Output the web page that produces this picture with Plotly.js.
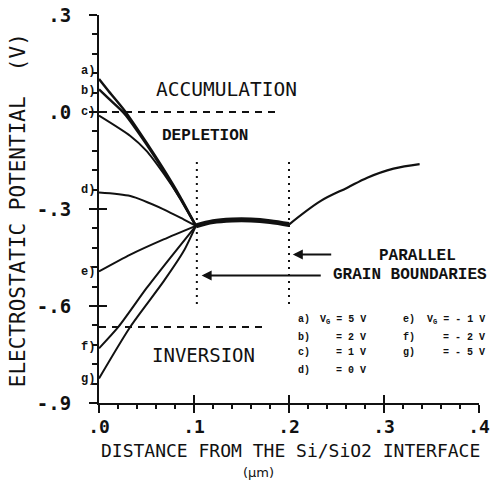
<!DOCTYPE html>
<html><head><meta charset="utf-8">
<script src="https://cdn.plot.ly/plotly-3.0.1.min.js"></script>
<style>html,body{margin:0;padding:0;background:#fff}</style>
</head><body><div id="chart" style="width:494px;height:482px"></div>
<script>
// ---- data ----
const xA = [0, 0.01, 0.027, 0.05, 0.068, 0.085, 0.102];
const yA = [0.102, 0.065, 0.004, -0.095, -0.177, -0.26, -0.352];
const xB = [0, 0.01, 0.027, 0.05, 0.068, 0.085, 0.102];
const yB = [0.07, 0.042, -0.006, -0.1, -0.182, -0.265, -0.352];
const xC = [0, 0.033, 0.05, 0.068, 0.085, 0.102];
const yC = [-0.011, -0.074, -0.12, -0.19, -0.265, -0.352];
const xD = [0, 0.033, 0.068, 0.089, 0.102];
const yD = [-0.249, -0.26, -0.301, -0.332, -0.352];
const xE = [0, 0.033, 0.068, 0.102];
const yE = [-0.493, -0.441, -0.394, -0.352];
const xF = [0, 0.0206, 0.05, 0.075, 0.102];
const yF = [-0.731, -0.664, -0.545, -0.451, -0.352];
const xG = [0, 0.033, 0.068, 0.089, 0.102];
const yG = [-0.824, -0.664, -0.524, -0.431, -0.352];
const xMid = [0.102, 0.12, 0.14, 0.16, 0.18, 0.2];
const yMid = [-0.352, -0.339, -0.334, -0.334, -0.339, -0.348];
const xRight = [0.2, 0.2335, 0.2614, 0.2824, 0.31, 0.3375];
const yRight = [-0.348, -0.275, -0.234, -0.203, -0.175, -0.161];

const curveLabels = ['a)', 'b)', 'c)', 'd)', 'e)', 'f)', 'g)'];
const curveLabelY = [0.127, 0.065, 0.0, -0.24, -0.494, -0.727, -0.826];

const accX = [0, 0.19], accY = [0, 0];
const invX = [0, 0.175], invY = [-0.665, -0.665];
const gbX = [0.103, 0.2];
const gbYTop = -0.155, gbYBottom = -0.6;

const xTicks = [0, 0.1, 0.2, 0.3, 0.4];
const xTickText = ['.0', '.1', '.2', '.3', '.4'];
const yTicks = [-0.9, -0.6, -0.3, 0, 0.3];
const yTickText = ['-.9', '-.6', '-.3', '.0', '.3'];

const legLeft = ['a)', 'b)', 'c)', 'd)'];
const legLeftVal = ['V<sub>G</sub> = 5 V', '= 2 V', '= 1 V', '= 0 V'];
const legRight = ['e)', 'f)', 'g)'];
const legRightVal = ['V<sub>G</sub> = - 1 V', '= - 2 V', '= - 5 V'];
const legRowY = [-0.643, -0.696, -0.745, -0.798];

const xTitle = 'DISTANCE FROM THE Si/SiO2 INTERFACE';
const xUnit = '(μm)';
const yTitle = 'ELECTROSTATIC POTENTIAL\u00a0\u00a0(V)';

// ---- traces ----
const black = '#111';
const curveXs = [xA, xB, xC, xD, xE, xF, xG];
const curveYs = [yA, yB, yC, yD, yE, yF, yG];
const traces = curveXs.map((xs, i) => ({
  x: xs, y: curveYs[i], mode: 'lines', type: 'scatter',
  line: {color: black, width: i < 2 ? 2.5 : 2, shape: 'spline', smoothing: 0.7},
  hoverinfo: 'skip'
}));
traces.push({x: xMid, y: yMid, mode: 'lines', line: {color: black, width: 5, shape: 'spline'}});
traces.push({x: xRight, y: yRight, mode: 'lines', line: {color: black, width: 2.2, shape: 'spline'}});
traces.push({x: accX, y: accY, xaxis: 'x2', yaxis: 'y', mode: 'lines', line: {color: black, width: 2, dash: '7px,6px'}});
traces.push({x: invX, y: invY, xaxis: 'x', yaxis: 'y2', mode: 'lines', line: {color: black, width: 2, dash: '7px,6px'}});
gbX.forEach(g => traces.push({x: [g, g], y: [gbYTop, gbYBottom], mode: 'lines', line: {color: black, width: 2, dash: '2px,5px'}}));

// ---- annotations ----
const ann = [];
const monoB = 'Liberation Mono';
curveLabels.forEach((t, i) => ann.push({x: 0, y: curveLabelY[i], text: t, showarrow: false, xanchor: 'right', xshift: -2,
  font: {family: monoB, size: 12, color: black, weight: 'bold'}}));
const region = (x, y, t, fam, size, weight) => ann.push({x, y, text: t, showarrow: false,
  font: {family: fam, size, color: black, weight}});
region(0.134, 0.071, 'ACCUMULATION', 'DejaVu Sans Mono', 19.5, 'normal');
region(0.112, -0.075, 'DEPLETION', monoB, 16, 'bold');
region(0.11, -0.752, 'INVERSION', 'DejaVu Sans Mono', 19, 'normal');
region(0.335, -0.444, 'PARALLEL', monoB, 16, 'bold');
region(0.327, -0.503, 'GRAIN BOUNDARIES', monoB, 16, 'bold');
// arrows
ann.push({x: 0.204, y: -0.441, ax: 0.246, ay: -0.441, axref: 'x', ayref: 'y', text: '', showarrow: true,
  arrowhead: 2, arrowsize: 1, arrowwidth: 2, arrowcolor: black});
ann.push({x: 0.108, y: -0.506, ax: 0.235, ay: -0.506, axref: 'x', ayref: 'y', text: '', showarrow: true,
  arrowhead: 2, arrowsize: 1, arrowwidth: 2, arrowcolor: black});
// legend table (paper x so that the right column can pass the axis end)
const legFont = {family: monoB, size: 10, color: black, weight: 'bold'};
const px = v => v / 0.4;
legLeft.forEach((t, i) => {
  ann.push({xref: 'paper', x: px(0.207), y: legRowY[i], text: t, showarrow: false, xanchor: 'left', font: legFont});
  ann.push({xref: 'paper', x: px(0.283), y: legRowY[i], text: legLeftVal[i], showarrow: false, xanchor: 'right', font: legFont});
});
legRight.forEach((t, i) => {
  ann.push({xref: 'paper', x: px(0.318), y: legRowY[i], text: t, showarrow: false, xanchor: 'left', font: legFont});
  ann.push({xref: 'paper', x: px(0.408), y: legRowY[i], text: legRightVal[i], showarrow: false, xanchor: 'right', font: legFont});
});
// axis titles
ann.push({xref: 'paper', yref: 'paper', x: 0.505, y: (403 - 450) / 388, xanchor: 'center', yanchor: 'middle', showarrow: false,
  text: xTitle, font: {family: 'DejaVu Sans Mono', size: 18, color: black}});
ann.push({xref: 'paper', yref: 'paper', x: 0.42, y: (403 - 481.5) / 388, xanchor: 'center', yanchor: 'bottom', showarrow: false,
  text: xUnit, font: {family: 'DejaVu Sans', size: 13, color: black}});
ann.push({xref: 'paper', yref: 'paper', x: -0.213, y: 0.497, xanchor: 'center', yanchor: 'middle', showarrow: false,
  textangle: -90, text: yTitle, font: {family: 'DejaVu Sans Mono', size: 21, color: black}});

const axFontX = {family: 'DejaVu Sans Mono', size: 18, color: black, weight: 'bold'};
const axFontY = {family: 'DejaVu Sans Mono', size: 19, color: black, weight: 'bold'};
const layout = {
  width: 494, height: 482,
  margin: {l: 99, r: 15, t: 15, b: 79},
  paper_bgcolor: '#fff', plot_bgcolor: '#fff',
  showlegend: false,
  xaxis: {range: [0, 0.4], tickmode: 'array', tickvals: xTicks, ticktext: xTickText,
    showline: true, linecolor: black, linewidth: 2, ticks: 'outside', ticklen: 8, tickwidth: 2, tickcolor: black,
    showgrid: false, zeroline: false, tickfont: axFontX, ticklabelstandoff: -2,
    minor: {tickmode: 'linear', tick0: 0, dtick: 0.02, ticks: 'outside', ticklen: 4, tickwidth: 2, tickcolor: black, showgrid: false},
    automargin: false},
  yaxis: {range: [-0.9, 0.3], tickmode: 'array', tickvals: yTicks, ticktext: yTickText,
    showline: true, linecolor: black, linewidth: 2, ticks: 'outside', ticklen: 8, tickwidth: 2, tickcolor: black,
    showgrid: false, zeroline: false, tickfont: axFontY, ticklabelstandoff: 14,
    minor: {tickmode: 'linear', tick0: 0, dtick: 0.06, ticks: 'outside', ticklen: 5, tickwidth: 2, tickcolor: black, showgrid: false},
    automargin: false},
  xaxis2: {range: [0, 0.4], overlaying: 'x', anchor: 'y', side: 'bottom', tickmode: 'array', tickvals: xTicks,
    ticks: 'inside', ticklen: 8, tickwidth: 2, tickcolor: black, showticklabels: false, showline: false, showgrid: false, zeroline: false},
  yaxis2: {range: [-0.9, 0.3], overlaying: 'y', anchor: 'x', side: 'left', tickmode: 'array', tickvals: yTicks,
    ticks: 'inside', ticklen: 8, tickwidth: 2, tickcolor: black, showticklabels: false, showline: false, showgrid: false, zeroline: false},
  annotations: ann
};
Plotly.newPlot('chart', traces, layout, {displayModeBar: false, staticPlot: true});
</script></body></html>
